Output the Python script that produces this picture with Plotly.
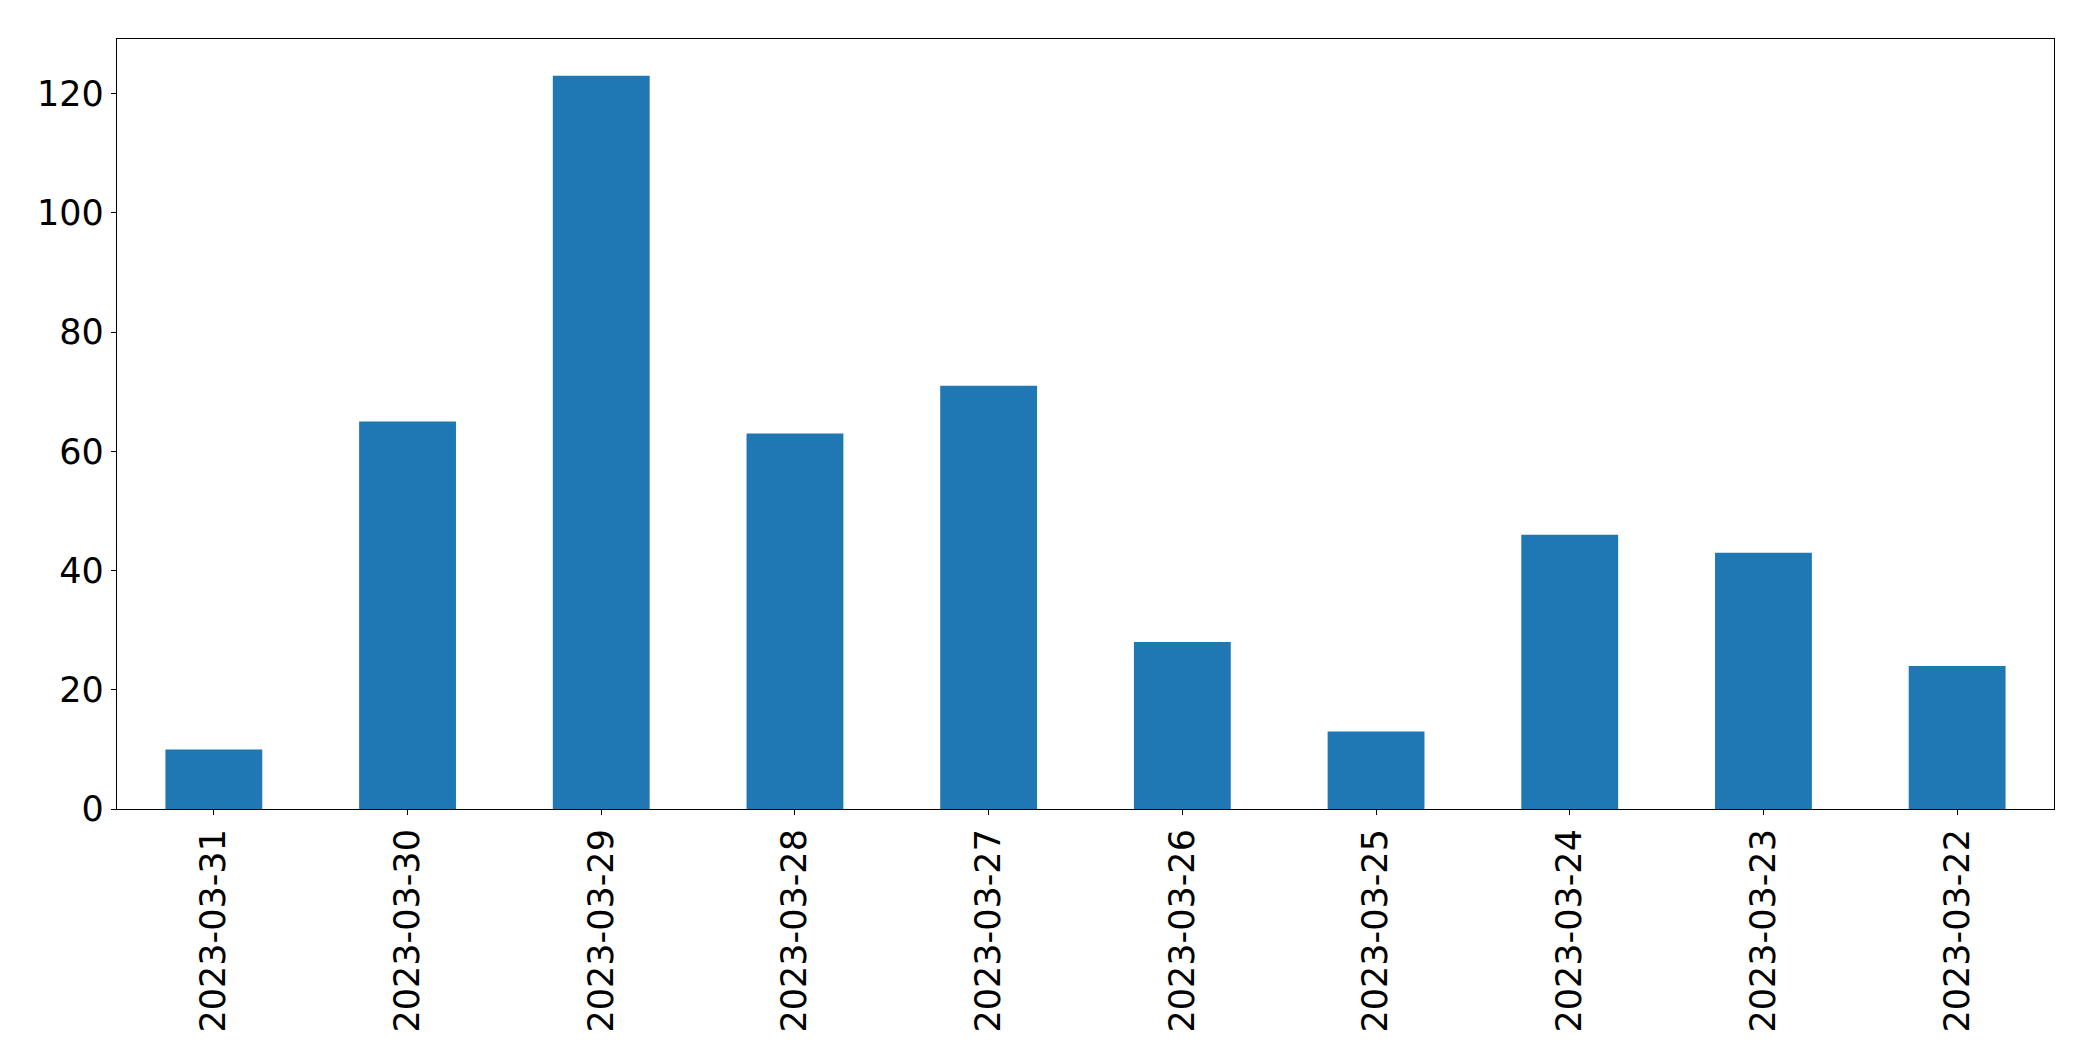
import plotly.graph_objects as go

dates = ["2023-03-31", "2023-03-30", "2023-03-29", "2023-03-28", "2023-03-27",
         "2023-03-26", "2023-03-25", "2023-03-24", "2023-03-23", "2023-03-22"]
counts = [10, 65, 123, 63, 71, 28, 13, 46, 43, 24]
y_ticks = [0, 20, 40, 60, 80, 100, 120]

fig = go.Figure(go.Bar(x=list(range(len(dates))), y=counts, width=0.5,
                       marker=dict(color="#1f77b4", line=dict(width=0))))

font = dict(family="DejaVu Sans", size=35, color="black")
# the page body has an 8px margin, so the figure is shrunk by 8px and margins shifted
fig.update_layout(
    width=2085, height=1053,
    margin=dict(l=109, r=39, t=31, b=252),
    plot_bgcolor="white", paper_bgcolor="white",
    showlegend=False,
    font=font,
)
fig.update_xaxes(
    range=[-0.5, len(dates) - 0.5],
    tickmode="array", tickvals=list(range(len(dates))), ticktext=dates,
    tickangle=-90, ticks="outside", ticklen=5, tickwidth=1.2, tickcolor="black",
    showline=True, linecolor="black", linewidth=1.2, mirror=True,
    showgrid=False, zeroline=False, tickfont=font, automargin=False,
)
fig.update_yaxes(
    range=[0, 129.15],
    tickmode="array", tickvals=y_ticks, ticktext=[str(v) for v in y_ticks],
    ticks="outside", ticklen=5, tickwidth=1.2, tickcolor="black",
    showline=True, linecolor="black", linewidth=1.2, mirror=True,
    showgrid=False, zeroline=False, tickfont=font, automargin=False,
)
fig.write_html("out.html")
